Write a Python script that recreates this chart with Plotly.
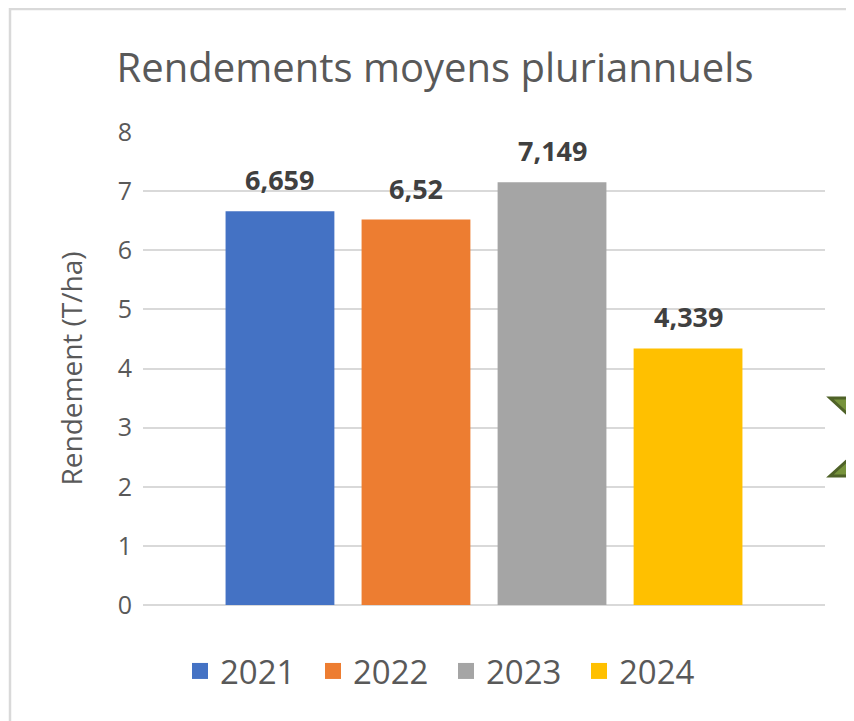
import plotly.graph_objects as go

years = ["2021", "2022", "2023", "2024"]
values = [6.659, 6.52, 7.149, 4.339]
colors = ["#4472C4", "#ED7D31", "#A5A5A5", "#FFC000"]
y_ticks = [0, 1, 2, 3, 4, 5, 6, 7, 8]

# page body has an 8px margin; work in screen coords and shift
OFF = 8
W, H = 854 - OFF, 721 - OFF
PL, PR, PT, PB = 143, 825, 132, 605  # plot area in screen coords
L, R, T, B = PL - OFF, W - (PR - OFF), PT - OFF, H - (PB - OFF)
pw, ph = PR - PL, PB - PT


def px(x):
    return (x - PL) / pw


def py(y):
    return (PB - y) / ph


FONT = "Open Sans"
fig = go.Figure()
for i, (yr, v, c) in enumerate(zip(years, values, colors)):
    fig.add_trace(go.Bar(x=[yr], y=[v], name=yr, marker=dict(color=c, line=dict(width=0)),
                         showlegend=False, hoverinfo="skip"))
    fig.add_annotation(x=i, y=v, xref="x", yref="y",
                       text="<b>" + str(v).replace(".", ",") + "</b>",
                       showarrow=False, yanchor="bottom", yshift=11,
                       font=dict(family=FONT, size=27, color="#404040"))
for yr, c in zip(years, colors):
    fig.add_trace(go.Scatter(x=[None], y=[None], mode="markers", name=yr,
                             marker=dict(symbol="square", size=20, color=c)))

shapes = [
    dict(type="rect", xref="paper", yref="paper", x0=px(10), x1=px(900), y0=py(760), y1=py(9),
         line=dict(color="#D9D9D9", width=2.5), fillcolor="rgba(0,0,0,0)", layer="below"),
    dict(type="path", xref="paper", yref="paper",
         path=f"M {px(830)} {py(398)} L {px(870)} {py(398)} L {px(870)} {py(435)} Z",
         fillcolor="#77933C", line=dict(color="#4F6228", width=3)),
    dict(type="path", xref="paper", yref="paper",
         path=f"M {px(830)} {py(476)} L {px(870)} {py(476)} L {px(870)} {py(440)} Z",
         fillcolor="#77933C", line=dict(color="#4F6228", width=3)),
]

fig.update_layout(
    width=W, height=H,
    margin=dict(l=L, r=R, t=T, b=B, autoexpand=False),
    paper_bgcolor="white", plot_bgcolor="white",
    barmode="overlay", bargap=0.2,
    title=dict(text="Rendements moyens pluriannuels", xref="container", x=(435 - OFF) / W,
               xanchor="center", yref="container", y=1 - (68 - OFF) / H, yanchor="middle",
               font=dict(family=FONT, size=40, color="#595959")),
    xaxis=dict(type="category", categoryorder="array", categoryarray=years,
               range=[-1.007, 4.007], showticklabels=False, showgrid=False,
               zeroline=False, showline=False, ticks=""),
    yaxis=dict(range=[0, 8], tickvals=y_ticks, showgrid=True, gridcolor="#D9D9D9", gridwidth=1.5,
               zeroline=True, zerolinecolor="#D9D9D9", zerolinewidth=1.5, showline=False,
               ticks="", ticklabelstandoff=10,
               tickfont=dict(family=FONT, size=25, color="#595959"),
               title=dict(text="Rendement (T/ha)", standoff=26,
                          font=dict(family=FONT, size=28, color="#595959"))),
    legend=dict(orientation="h", x=px(446), xanchor="center", y=py(671), yanchor="middle",
                font=dict(family=FONT, size=33, color="#595959"), itemwidth=30,
                entrywidth=88, traceorder="normal"),
    shapes=shapes,
    showlegend=True,
)

fig.write_html("out.html")
